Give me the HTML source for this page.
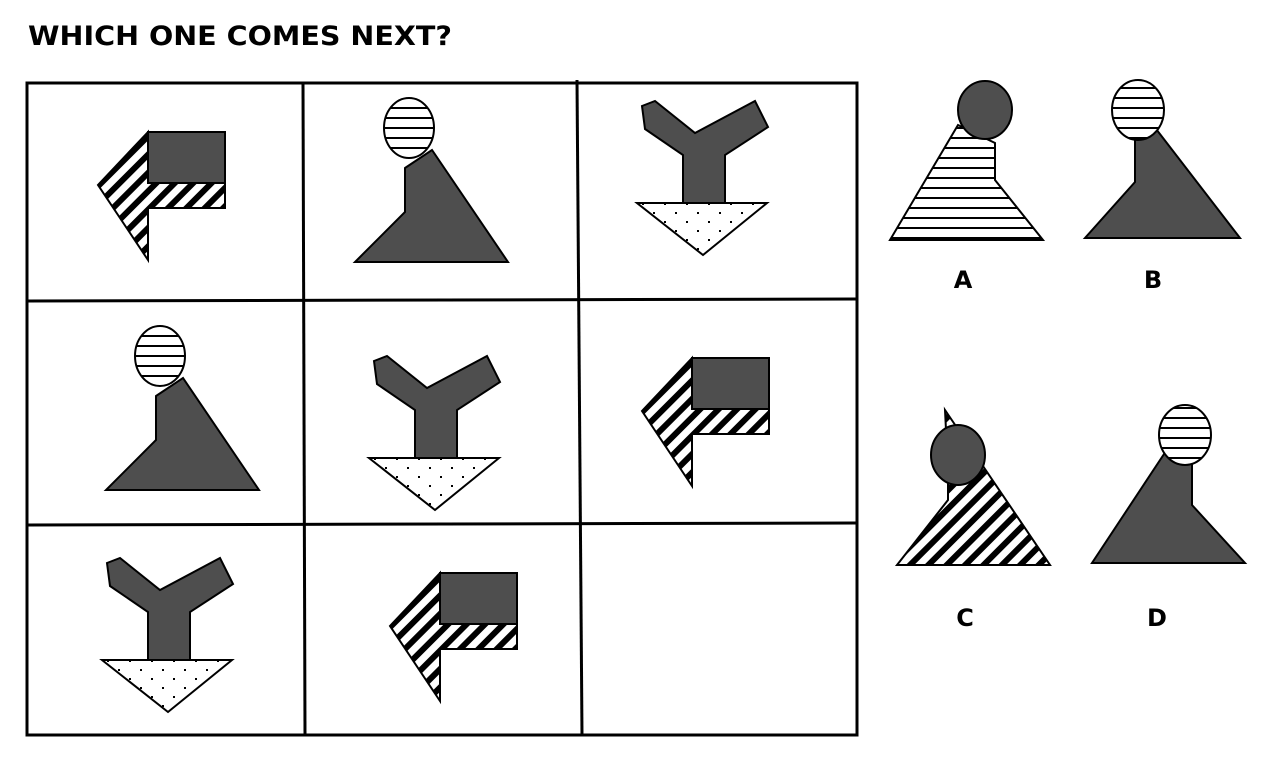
<!DOCTYPE html>
<html><head><meta charset="utf-8"><style>
html,body{margin:0;padding:0;background:#fff;}
svg{display:block;}
</style></head><body>
<svg width="1262" height="777" viewBox="0 0 1262 777" xmlns="http://www.w3.org/2000/svg">
<defs>
<pattern id="diag" patternUnits="userSpaceOnUse" width="13" height="13" patternTransform="rotate(45)">
<rect width="13" height="13" fill="#fff"/><rect width="6" height="13" fill="#000"/></pattern>
<pattern id="horiz" patternUnits="userSpaceOnUse" width="10" height="10">
<rect width="10" height="10" fill="#fff"/><rect y="7" width="10" height="2" fill="#000"/></pattern>
<pattern id="dots" patternUnits="userSpaceOnUse" width="22" height="18">
<rect width="22" height="18" fill="#fff"/><rect x="4" y="5" width="2" height="2" fill="#000"/><rect x="15" y="14" width="2" height="2" fill="#000"/></pattern>
<g id="flag">
<polygon points="0,0 -50,53 0,128 0,76 77,76 77,51 0,51" fill="url(#diag)" stroke="#000" stroke-width="2"/>
<rect x="0" y="0" width="77" height="51" fill="#4e4e4e" stroke="#000" stroke-width="2"/>
</g>
<g id="person">
<polygon points="405,168 432,150 508,262 355,262 405,212" fill="#4e4e4e" stroke="#000" stroke-width="2"/>
<ellipse cx="409" cy="128" rx="25" ry="30" fill="url(#horiz)" stroke="#000" stroke-width="2"/>
</g>
<g id="yshape">
<polygon points="642,106 655,101 695,133 755,101 768,127 725,155 725,203 683,203 683,155 645,129" fill="#4e4e4e" stroke="#000" stroke-width="2"/>
<polygon points="637,203 767,203 703,255" fill="url(#dots)" stroke="#000" stroke-width="2"/>
</g>
</defs>
<text x="28" y="45" font-family="DejaVu Sans, Liberation Sans, sans-serif" font-weight="900" font-size="27" textLength="424" lengthAdjust="spacingAndGlyphs">WHICH ONE COMES NEXT?</text>

<g stroke="#000" stroke-width="3" fill="none">
<rect x="27" y="83" width="830" height="652"/>
<line x1="303" y1="83" x2="305" y2="735"/>
<line x1="577" y1="80" x2="582" y2="735"/>
<line x1="27" y1="301" x2="857" y2="299"/>
<line x1="27" y1="525" x2="857" y2="523"/>
</g>

<use href="#flag" x="148" y="132"/>
<use href="#person"/>
<use href="#yshape"/>
<use href="#person" x="-249" y="228"/>
<use href="#yshape" x="-268" y="255"/>
<use href="#flag" x="692" y="358"/>
<use href="#yshape" x="-535" y="457"/>
<use href="#flag" x="440" y="573"/>
<rect x="585" y="526" width="270" height="207" fill="none"/>

<g>
<polygon points="958,125 995,143 995,180 1043,240 890,240" fill="url(#horiz)" stroke="#000" stroke-width="2"/>
<ellipse cx="985" cy="110" rx="27" ry="29" fill="#4e4e4e" stroke="#000" stroke-width="2"/>
<text x="963" y="288" text-anchor="middle" font-family="DejaVu Sans, sans-serif" font-weight="900" font-size="24">A</text>
</g>
<g>
<polygon points="1153,125 1240,238 1085,238 1135,182 1135,140" fill="#4e4e4e" stroke="#000" stroke-width="2"/>
<ellipse cx="1138" cy="110" rx="26" ry="30" fill="url(#horiz)" stroke="#000" stroke-width="2"/>
<text x="1153" y="288" text-anchor="middle" font-family="DejaVu Sans, sans-serif" font-weight="900" font-size="24">B</text>
</g>
<g>
<polygon points="945,410 1050,565 897,565 948,500 948,470" fill="url(#diag)" stroke="#000" stroke-width="2"/>
<ellipse cx="958" cy="455" rx="27" ry="30" fill="#4e4e4e" stroke="#000" stroke-width="2"/>
<text x="965" y="626" text-anchor="middle" font-family="DejaVu Sans, sans-serif" font-weight="900" font-size="24">C</text>
</g>
<g>
<polygon points="1168,448 1192,460 1192,505 1245,563 1092,563" fill="#4e4e4e" stroke="#000" stroke-width="2"/>
<ellipse cx="1185" cy="435" rx="26" ry="30" fill="url(#horiz)" stroke="#000" stroke-width="2"/>
<text x="1157" y="626" text-anchor="middle" font-family="DejaVu Sans, sans-serif" font-weight="900" font-size="24">D</text>
</g>
</svg>
</body></html>
